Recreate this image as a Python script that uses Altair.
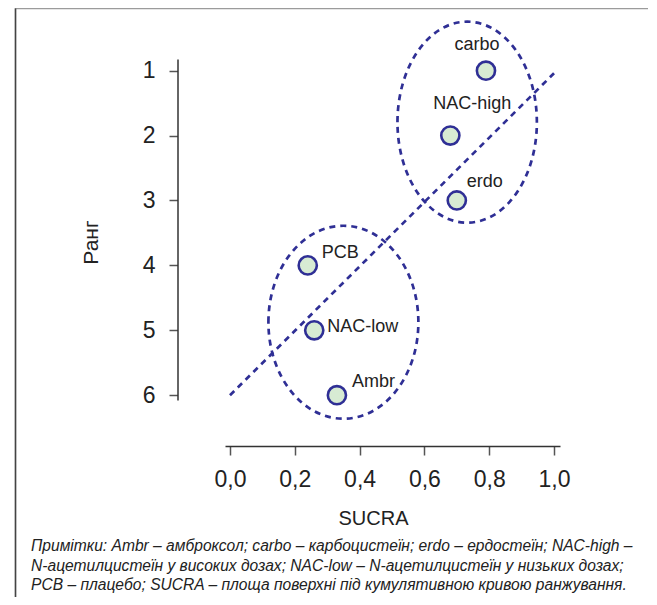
import altair as alt
import pandas as pd

# ---- data ----
treatments = ["carbo", "NAC-high", "erdo", "PCB", "NAC-low", "Ambr"]
sucra = [0.79, 0.68, 0.70, 0.24, 0.26, 0.33]
rank = [1, 2, 3, 4, 5, 6]

trend_sucra = [0.0, 1.0]
trend_rank = [6.0, 1.04]

# cluster ellipses: centres (data units)
cluster_sucra = [0.732, 0.350]
cluster_rank = [1.793, 4.876]

x_ticks = [0.0, 0.2, 0.4, 0.6, 0.8, 1.0]
y_ticks = [1, 2, 3, 4, 5, 6]

footnote_lines = [
    "Примітки: Ambr – амброксол; carbo – карбоцистеїн; erdo – ердостеїн; NAC-high –",
    "N-ацетилцистеїн у високих дозах; NAC-low – N-ацетилцистеїн у низьких дозах;",
    "PCB – плацебо; SUCRA – площа поверхні під кумулятивною кривою ранжування.",
]

# ---- styling ----
FONT = "Liberation Sans"
NAVY = "#2f2f95"
FILL = "#d7ebd3"
TXT = "#222222"

df = pd.DataFrame({"treatment": treatments, "sucra": sucra, "rank": rank})
trend = pd.DataFrame({"sucra": trend_sucra, "rank": trend_rank})

xscale = alt.Scale(domain=[-0.0154, 1.0185], nice=False, zero=False)
yscale = alt.Scale(domain=[0.82, 6.074], nice=False, zero=False, reverse=True)

xaxis = alt.Axis(
    values=x_ticks,
    labelExpr="replace(format(datum.value, '.1f'), '.', ',')",
    offset=46, tickSize=9, tickWidth=1.5, tickColor="#555555",
    domainColor="#333333", domainWidth=1.5,
    labelFontSize=23, labelFont=FONT, labelColor=TXT, labelPadding=13,
    grid=False,
    title="SUCRA", titleFont=FONT, titleFontSize=20, titleFontWeight="normal",
    titleColor=TXT, titleX=148, titleY=72, titleBaseline="middle", titleAlign="center",
)
yaxis = alt.Axis(
    values=y_ticks, format="d",
    offset=47.5, tickSize=8.5, tickWidth=1.5, tickColor="#555555",
    domainColor="#333333", domainWidth=1.5,
    labelFontSize=23, labelFont=FONT, labelColor=TXT, labelPadding=14,
    grid=False,
    title="Ранг", titleFont=FONT, titleFontSize=21, titleFontWeight=500,
    titleColor=TXT, titleX=-86, titleY=183, titleAngle=270,
    titleBaseline="middle", titleAlign="center",
)

X = alt.X("sucra:Q", scale=xscale, axis=xaxis)
Y = alt.Y("rank:Q", scale=yscale, axis=yaxis)
Xn = alt.X("sucra:Q", scale=xscale)
Yn = alt.Y("rank:Q", scale=yscale)

one = alt.Data(values=[{}])

# frame of the figure
border = alt.Chart(one).mark_rect(
    fillOpacity=0, stroke="#9b9b9b", strokeWidth=1.6
).encode(x=alt.value(-209.5), x2=alt.value(424), y=alt.value(-50.5), y2=alt.value(560))
border_left = alt.Chart(one).mark_rule(color="#444444", strokeWidth=1.4).encode(
    x=alt.value(-209.5), y=alt.value(-50.5), y2=alt.value(560)
)


def ellipse_path(rx):
    k = 0.5523
    return (
        f"M{-rx},0 C{-rx},{-k} {-k*rx},-1 0,-1 "
        f"C{k*rx},-1 {rx},{-k} {rx},0 "
        f"C{rx},{k} {k*rx},1 0,1 "
        f"C{-k*rx},1 {-rx},{k} {-rx},0 Z"
    )


ell_style = [(0.6935, 201 ** 2), (0.777, 193 ** 2)]
ellipses = []
for i in range(2):
    rx, size = ell_style[i]
    d = pd.DataFrame({"sucra": [cluster_sucra[i]], "rank": [cluster_rank[i]]})
    ellipses.append(
        alt.Chart(d).mark_point(
            shape=ellipse_path(rx), size=size, filled=False, opacity=1,
            stroke=NAVY, strokeWidth=2.7, strokeDash=[6, 5],
        ).encode(x=Xn, y=Yn)
    )

trend_line = alt.Chart(trend).mark_line(
    color=NAVY, strokeWidth=2.7, strokeDash=[6, 5]
).encode(x=Xn, y=Yn)

points = alt.Chart(df).mark_point(
    shape="circle", size=330, filled=True, fill=FILL, opacity=1,
    stroke=NAVY, strokeWidth=2.6,
).encode(x=X, y=Y)

label_style = {
    "carbo": ("center", -9, -26),
    "NAC-high": ("center", 22, -32),
    "erdo": ("center", 28, -18),
    "PCB": ("left", 14, -12),
    "NAC-low": ("left", 13, -3),
    "Ambr": ("left", 15, -13),
}
labels = []
for name in treatments:
    al, dx, dy = label_style[name]
    labels.append(
        alt.Chart(df[df["treatment"] == name]).mark_text(
            align=al, baseline="middle", dx=dx, dy=dy,
            font=FONT, fontSize=18, color=TXT,
        ).encode(x=Xn, y=Yn, text="treatment:N")
    )

footnote = alt.Chart(one).mark_text(
    text=footnote_lines, align="left", baseline="alphabetic",
    font=FONT, fontSize=15.6, fontStyle="italic", lineHeight=19.5, color=TXT,
).encode(x=alt.value(31 - 225), y=alt.value(551 - 59))

chart = alt.layer(
    border, border_left, *ellipses, trend_line, points, *labels, footnote
).properties(
    width=335, height=341,
    autosize=alt.AutoSizeParams(type="none"),
    padding={"left": 217, "top": 51, "right": 88, "bottom": 197},
    background="white",
).configure_view(strokeWidth=0)

chart.save("out.html", embed_options={"renderer": "svg", "actions": False})
